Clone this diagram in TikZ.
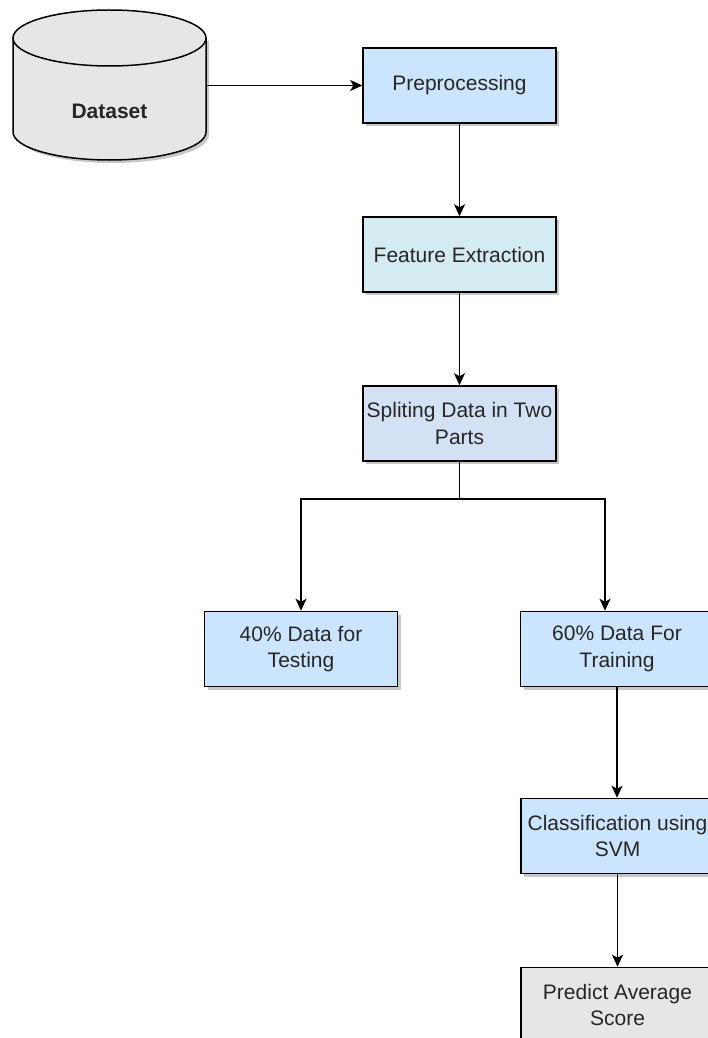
\documentclass[tikz,border=0pt]{standalone}
\usepackage{fontspec}
\setmainfont{Liberation Sans}
\usepackage{tikz}
\usetikzlibrary{calc,positioning,arrows.meta,shadows}
\definecolor{flowblue}{HTML}{CCE5FF}
\definecolor{flowcyan}{HTML}{D5EBF2}
\definecolor{flowlav}{HTML}{D4E1F5}
\definecolor{flowgray}{HTML}{E6E6E6}
\definecolor{flowtext}{HTML}{262626}

\begin{document}
\begin{tikzpicture}[x=1pt, y=1pt,
  box/.style={draw=black, line width=1.5pt, minimum width=193pt, minimum height=75pt, inner sep=0pt, align=center,
    font=\fontsize{21pt}{26.5pt}\selectfont, text=flowtext,
    drop shadow={shadow xshift=3pt, shadow yshift=-3pt, fill=black, opacity=0.22}},
  arrow/.style={-{Stealth[length=12pt, width=11pt, inset=3pt]}, black, line width=1.6pt},
  dbfill/.style={fill=flowgray, draw=black, line width=1.5pt}
]
  \useasboundingbox (0,0) rectangle (707,-1038);

  % Dataset cylinder
  \fill[black, opacity=0.22] (16,-41) -- (16,-135) arc[start angle=180, end angle=360, x radius=96.5, y radius=28] -- (209,-41) -- cycle;
  \filldraw[dbfill] (13,-38) -- (13,-132) arc[start angle=180, end angle=360, x radius=96.5, y radius=28]
    -- (206,-38) arc[start angle=0, end angle=180, x radius=96.5, y radius=28] -- cycle;
  \draw[black, line width=1.5pt] (13,-38) arc[start angle=180, end angle=360, x radius=96.5, y radius=28];
  \node[minimum width=193pt, minimum height=150pt, inner sep=0pt] (dataset) at (109.5,-85.5) {};
  \node[font=\fontsize{21pt}{26.5pt}\selectfont\bfseries, text=flowtext] (datasetlabel) at (109.5,-111) {Dataset};

  % Processing chain
  \node[box, fill=flowblue] (prep) at (459.5,-85.5) {Preprocessing};
  \node[box, fill=flowcyan] (feat) at (459.5,-254.5) {Feature Extraction};
  \node[box, fill=flowlav] (split) at (459.5,-423.5) {Spliting Data in Two\\Parts};
  \node[box, fill=flowblue] (test) at (301,-649) {40\% Data for\\Testing};
  \node[box, fill=flowblue] (train) at (617,-649) {60\% Data For\\Training};
  \node[box, fill=flowblue] (svm) at (617.5,-836) {Classification using\\SVM};
  \node[box, fill=flowgray] (predict) at (617.5,-1005) {Predict Average\\Score};

  \draw[arrow] (dataset.east) -- (prep.west);
  \draw[arrow] (prep) -- (feat);
  \draw[arrow] (feat) -- (split);
  \draw[line width=1.6pt] (split.south) -- ++(0,-37.5) coordinate (fork);
  \draw[arrow] (fork) -| (test.north);
  \draw[arrow] (fork) -| ([xshift=-12pt]train.north);
  \draw[arrow] (train.south) -- (train.south |- svm.north);
  \draw[arrow] (svm) -- (predict);
\end{tikzpicture}
\end{document}
